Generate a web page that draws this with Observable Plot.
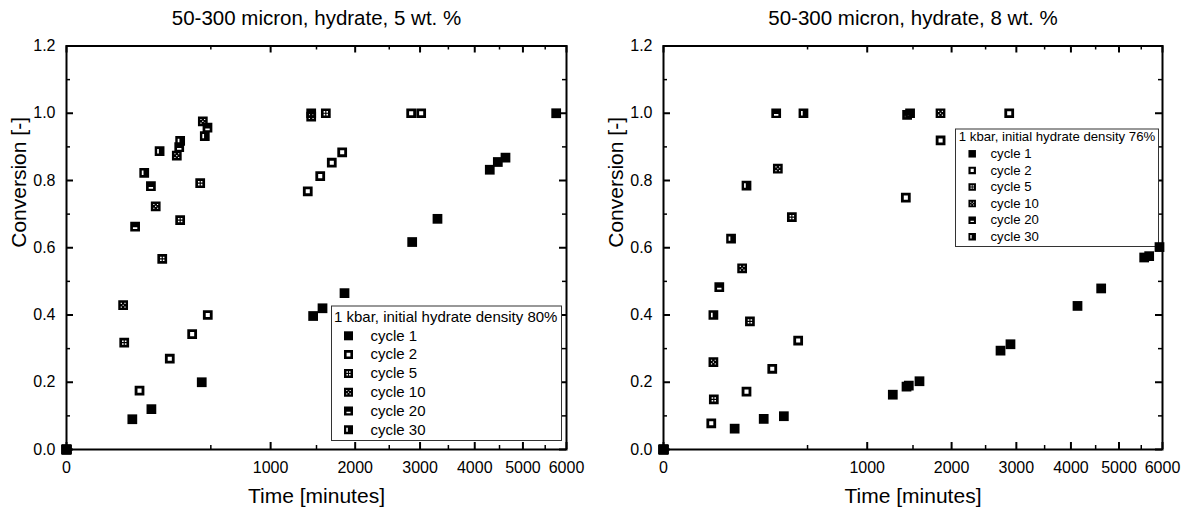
<!DOCTYPE html>
<html><head><meta charset="utf-8">
<script src="https://cdn.jsdelivr.net/npm/d3@7"></script>
<script src="https://cdn.jsdelivr.net/npm/@observablehq/plot@0.6"></script>
<style>
html,body{margin:0;padding:0;background:#fff;}
#wrap{display:flex;width:1189px;height:511px;overflow:hidden;}
</style></head><body><div id="wrap"></div>
<script>
const cycles = ["cycle 1", "cycle 2", "cycle 5", "cycle 10", "cycle 20", "cycle 30"];
const titles = ["50-300 micron, hydrate, 5 wt. %", "50-300 micron, hydrate, 8 wt. %"];
const legendTitles = ["1 kbar, initial hydrate density 80%", "1 kbar, initial hydrate density 76%"];
const xLabel = "Time [minutes]";
const yLabel = "Conversion [-]";
const xTicks = [0, 1000, 2000, 3000, 4000, 5000, 6000];
const xMinor = [500, 1500, 2500, 3500, 4500, 5500];
const yTicks = [0, 0.2, 0.4, 0.6, 0.8, 1.0, 1.2];
const yMinor = [0.1, 0.3, 0.5, 0.7, 0.9, 1.1];

// 5 wt.% panel: time (min) and conversion per cycle
const time5 = [
  [0, 104, 173, 439, 1460, 1573, 1855, 2868, 3303, 4300, 4465, 4625, 5755],
  [0, 128, 256, 379, 479, 1397, 1545, 1689, 1824, 2851, 3019],
  [0, 80, 220, 310, 429, 1614],
  [0, 77, 191, 292, 446, 1437],
  [0, 113, 171, 305, 477, 1437],
  [0, 145, 208, 310, 459]
];
const conv5 = [
  [0, 0.09, 0.12, 0.20, 0.397, 0.42, 0.465, 0.617, 0.686, 0.832, 0.855, 0.868, 1.0],
  [0, 0.175, 0.27, 0.343, 0.40, 0.768, 0.813, 0.853, 0.884, 1.0, 1.0],
  [0, 0.318, 0.567, 0.682, 0.792, 1.0],
  [0, 0.429, 0.723, 0.874, 0.976, 0.99],
  [0, 0.663, 0.783, 0.899, 0.957, 1.0],
  [0, 0.823, 0.887, 0.918, 0.932]
];

// 8 wt.% panel
const time8 = [
  [0, 122, 242, 349, 1267, 1423, 1450, 1579, 2737, 2901, 4130, 4616, 5568, 5684, 5928],
  [0, 55, 166, 285, 437, 1415, 1850, 2880],
  [0, 61, 180, 397],
  [0, 60, 149, 315, 1849],
  [0, 75, 306, 1430],
  [0, 60, 110, 166, 472, 1465]
];
const conv8 = [
  [0, 0.062, 0.091, 0.099, 0.163, 0.187, 0.19, 0.203, 0.294, 0.313, 0.427, 0.479, 0.571, 0.575, 0.602],
  [0, 0.078, 0.172, 0.24, 0.324, 0.749, 0.919, 1.0],
  [0, 0.149, 0.381, 0.691],
  [0, 0.26, 0.539, 0.835, 1.0],
  [0, 0.483, 1.0, 0.995],
  [0, 0.40, 0.627, 0.785, 1.0, 1.0]
];

// custom square symbols with white "holes" (opposite winding)
function hole(ctx, x0, y0, x1, y1) {
  ctx.moveTo(x0, y0); ctx.lineTo(x0, y1); ctx.lineTo(x1, y1); ctx.lineTo(x1, y0); ctx.closePath();
}
function makeSymbol(holes) {
  return {
    draw(ctx, size) {
      const h = Math.sqrt(size) / 2;
      ctx.moveTo(-h, -h); ctx.lineTo(h, -h); ctx.lineTo(h, h); ctx.lineTo(-h, h); ctx.closePath();
      for (const [a, b, c, d] of holes) hole(ctx, a * h, b * h, c * h, d * h);
    }
  };
}
const symbols = [
  makeSymbol([]),
  makeSymbol([[-0.42, -0.42, 0.42, 0.42]]),
  makeSymbol([[-0.45, -0.45, -0.12, -0.12], [0.12, -0.45, 0.45, -0.12], [-0.45, 0.12, -0.12, 0.45], [0.12, 0.12, 0.45, 0.45]]),
  makeSymbol([[-0.12, -0.12, 0.12, 0.12], [-0.5, -0.5, -0.26, -0.26], [0.26, -0.5, 0.5, -0.26], [-0.5, 0.26, -0.26, 0.5], [0.26, 0.26, 0.5, 0.5]]),
  makeSymbol([[-0.45, 0.15, 0.45, 0.5]]),
  makeSymbol([[-0.5, -0.45, -0.15, 0.45]])
];

const FONT = "'Liberation Sans', Arial, Helvetica, sans-serif";
const HEIGHT = 511, MT = 45.5, MB = 62;

function panel(cfg) {
  const {width, marginLeft, marginRight, times, convs, title, legendTitle, lg} = cfg;
  const W = width - marginLeft - marginRight;
  const H = HEIGHT - MT - MB;
  const rows = cycles.map((c, i) => times[i].map((t, j) => ({cycle: c, t, c: convs[i][j]})));
  const MAJ = 7, MIN = 4;
  const marks = [];
  for (const [vals, len, sw] of [[xMinor, MIN, 1.5], [xTicks, MAJ, 2]]) {
    marks.push(Plot.tickX(vals, {x: d => d, insetTop: H - len, stroke: "black", strokeWidth: sw}));
    marks.push(Plot.tickX(vals, {x: d => d, insetBottom: H - len, stroke: "black", strokeWidth: sw}));
  }
  for (const [vals, len, sw] of [[yMinor, MIN, 1.5], [yTicks, MAJ, 2]]) {
    marks.push(Plot.tickY(vals, {y: d => d, insetRight: W - len, stroke: "black", strokeWidth: sw}));
    marks.push(Plot.tickY(vals, {y: d => d, insetLeft: W - len, stroke: "black", strokeWidth: sw}));
  }
  marks.push(Plot.axisX({ticks: xTicks, tickSize: 0, tickPadding: 12, tickFormat: d3.format("d"), label: null}));
  marks.push(Plot.axisY({ticks: yTicks, tickSize: 0, tickPadding: 11, tickFormat: d3.format(".1f"), label: null}));
  marks.push(Plot.frame({fill: "white", stroke: "#333", strokeWidth: 1,
    insetLeft: lg.boxL, insetRight: lg.boxR, insetTop: lg.boxT, insetBottom: lg.boxB}));
  cycles.forEach((c, i) => {
    marks.push(Plot.dot(rows[i], {x: "t", y: "c", symbol: symbols[i], r: 5.5, fill: "black", stroke: "none"}));
  });
  marks.push(Plot.frame({stroke: "black", strokeWidth: 2}));
  marks.push(Plot.text([legendTitle], {text: d => d, frameAnchor: "top-left", dx: lg.titleX, dy: lg.titleY,
    textAnchor: "start", lineAnchor: "middle", fontSize: lg.font, fill: "black"}));
  cycles.forEach((c, i) => {
    const dy = lg.row0 + i * lg.step;
    marks.push(Plot.dot([c], {frameAnchor: "top-left", dx: lg.symX, dy, symbol: symbols[i], r: lg.r, fill: "black", stroke: "none"}));
    marks.push(Plot.text([c], {text: d => d, frameAnchor: "top-left", dx: lg.textX, dy,
      textAnchor: "start", lineAnchor: "middle", fontSize: lg.font, fill: "black"}));
  });
  marks.push(Plot.text([title], {text: d => d, frameAnchor: "top", dy: -28, lineAnchor: "middle", fontSize: 20.5, fill: "black"}));
  marks.push(Plot.text([xLabel], {text: d => d, frameAnchor: "bottom", dy: 47, lineAnchor: "middle", fontSize: 21, fill: "black"}));
  marks.push(Plot.text([yLabel], {text: d => d, frameAnchor: "left", dx: -47, rotate: -90, lineAnchor: "middle", fontSize: 21, fill: "black"}));

  return Plot.plot({
    width, height: HEIGHT,
    marginLeft, marginRight, marginTop: MT, marginBottom: MB,
    x: {type: "sqrt", domain: [0, 6000]},
    y: {domain: [0, 1.2]},
    style: {fontFamily: FONT, fontSize: "16px", background: "white", color: "black", overflow: "visible"},
    marks
  });
}

const wrap = document.getElementById("wrap");
wrap.appendChild(panel({
  width: 594, marginLeft: 66, marginRight: 28, times: time5, convs: conv5,
  title: titles[0], legendTitle: legendTitles[0],
  lg: {boxL: 265, boxR: 5, boxT: 260, boxB: 9, titleX: 267.5, titleY: 271.3,
       symX: 282, textX: 304, row0: 289.8, step: 18.8, font: 15, r: 5.08}
}));
wrap.appendChild(panel({
  width: 595, marginLeft: 69, marginRight: 27, times: time8, convs: conv8,
  title: titles[1], legendTitle: legendTitles[1],
  lg: {boxL: 292, boxR: 4, boxT: 83, boxB: 203, titleX: 295.3, titleY: 91.2,
       symX: 308.7, textX: 327, row0: 107.8, step: 16.6, font: 13.2, r: 4.23}
}));
</script></body></html>
